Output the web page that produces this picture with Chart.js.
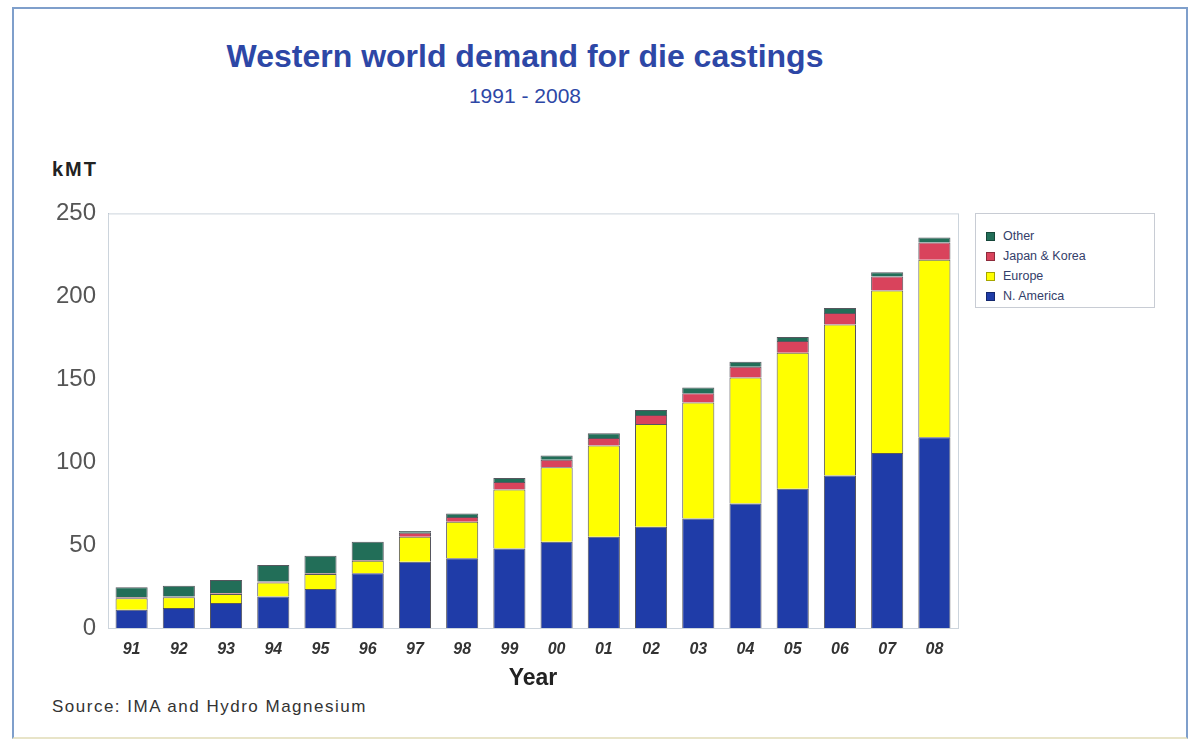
<!DOCTYPE html>
<html>
<head>
<meta charset="utf-8">
<script src="https://cdn.jsdelivr.net/npm/chart.js@4/dist/chart.umd.min.js"></script>
<style>
  body { margin: 0; background: #fff; font-family: "Liberation Sans", Arial, sans-serif; }
  #page { position: relative; width: 1195px; height: 742px; overflow: hidden; }
  #frame { position: absolute; left: 12px; top: 7px; width: 1172px; height: 728px; border: 2px solid #7f9fcb; border-bottom-color: #e8e4c8; }
  .txt { position: absolute; white-space: nowrap; }
  #title { left: 0; width: 1050px; top: 38px; text-align: center; font-size: 32px; font-weight: bold; color: #2d47a6; }
  #subtitle { left: 0; width: 1050px; top: 84px; text-align: center; font-size: 21px; color: #2d47a6; }
  #unit { left: 52px; top: 158px; font-size: 20px; font-weight: bold; color: #222; letter-spacing: 2px; }
  #source { left: 52px; top: 697px; font-size: 17px; color: #333; letter-spacing: 1.5px; }
  #chartBox { position: absolute; left: 40px; top: 187px; width: 930px; height: 506px; }
  #legend { position: absolute; left: 975px; top: 213px; width: 180px; height: 95px; border: 1px solid #c8ccd4; box-sizing: border-box; padding: 12px 0 0 10px; }
  .item { height: 20px; font-size: 12.5px; color: #34406a; display: flex; align-items: center; }
  .sw { width: 7px; height: 7px; margin-right: 8px; border: 1px solid rgba(0,0,0,0.35); }
</style>
</head>
<body>
<div id="page">
  <div id="frame"></div>
  <div id="title" class="txt">Western world demand for die castings</div>
  <div id="subtitle" class="txt">1991 - 2008</div>
  <div id="unit" class="txt">kMT</div>
  <div id="chartBox"><canvas id="myChart"></canvas></div>
  <div id="legend"></div>
  <div id="source" class="txt">Source: IMA and Hydro Magnesium</div>
</div>
<script>
const years = ["91", "92", "93", "94", "95", "96", "97", "98", "99", "00", "01", "02", "03", "04", "05", "06", "07", "08"];
const nAmerica = [11, 12, 15, 19, 23.5, 33, 40, 42, 48, 52, 55, 61, 66, 75, 84, 92, 105.5, 115];
const europe = [7, 6.5, 5.5, 8.5, 9, 7.5, 15, 22, 35.5, 45, 55, 62, 70, 76, 82, 91, 98, 107];
const japanKorea = [0.5, 0.5, 0.5, 0.5, 0.5, 0.5, 2.5, 3, 4.5, 4.5, 4.5, 5.5, 5.5, 6.5, 7, 7, 8.5, 10.5];
const other = [6, 6.5, 8, 10, 10.5, 11, 1, 2, 2.5, 2.5, 3, 3, 3.5, 3, 2.5, 3, 2.5, 3];
const yTicks = [0, 50, 100, 150, 200, 250];

const ctx = document.getElementById("myChart");

function makeSet(label, values, color) {
  return {
    label: label,
    data: values,
    backgroundColor: color,
    borderColor: "rgba(30,30,40,0.75)",
    borderWidth: 1,
    categoryPercentage: 1,
    barPercentage: 0.68,
  };
}

const sets = [
  makeSet("N. America", nAmerica, "#1f3ca8"),
  makeSet("Europe", europe, "#ffff00"),
  makeSet("Japan & Korea", japanKorea, "#d9435c"),
  makeSet("Other", other, "#226e58"),
];

// light box round the plot area
const plotBox = {
  id: "plotBox",
  beforeDatasetsDraw(chart) {
    const a = chart.chartArea;
    const c = chart.ctx;
    c.save();
    c.strokeStyle = "#ccd4dc";
    c.lineWidth = 1;
    c.strokeRect(a.left + 0.5, a.top + 0.5, a.right - a.left, a.bottom - a.top);
    c.restore();
  },
};

new Chart(ctx, {
  type: "bar",
  data: { labels: years, datasets: sets },
  plugins: [plotBox],
  options: {
    responsive: true,
    maintainAspectRatio: false,
    animation: false,
    layout: { padding: { top: 10, right: 12, left: 0, bottom: 0 } },
    plugins: {
      legend: { display: false },
      tooltip: { enabled: false },
    },
    scales: {
      x: {
        stacked: true,
        grid: { display: false, drawTicks: false },
        border: { display: true, color: "#9fb0c4" },
        ticks: {
          padding: 12,
          color: "#333",
          font: { family: "Liberation Sans", size: 16, weight: "bold", style: "italic" },
        },
        title: {
          display: true,
          text: "Year",
          color: "#222",
          padding: { top: 0, bottom: 1 },
          font: { family: "Liberation Sans", size: 23, weight: "bold" },
        },
        afterFit(axis) { axis.height = 65; },
      },
      y: {
        stacked: true,
        min: 0,
        max: 250,
        grid: { display: false, drawTicks: false },
        border: { display: true, color: "#aab4c0" },
        afterBuildTicks(axis) { axis.ticks = yTicks.map((v) => ({ value: v })); },
        ticks: {
          padding: 12,
          color: "#555",
          font: { family: "Liberation Sans", size: 24 },
        },
        afterFit(axis) { axis.width = 68; },
      },
    },
  },
});

// legend box, top entry is the top of the stack
const legend = document.getElementById("legend");
sets.slice().reverse().forEach((s) => {
  const row = document.createElement("div");
  row.className = "item";
  row.innerHTML = `<span class="sw" style="background:${s.backgroundColor}"></span>${s.label}`;
  legend.appendChild(row);
});
</script>
</body>
</html>
